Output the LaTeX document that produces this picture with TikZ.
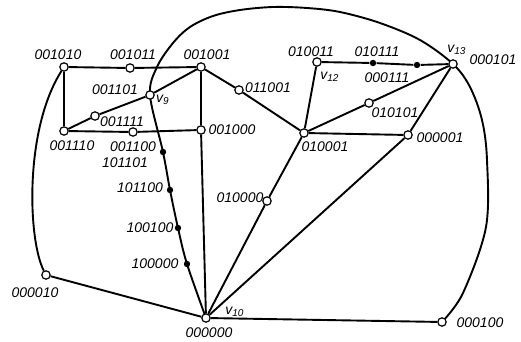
\documentclass[tikz,border=0pt]{standalone}
\usepackage{fontspec}
\usetikzlibrary{backgrounds}
\newfontfamily\lblfont{Liberation Sans}
\tikzset{
  vtx/.style={circle, draw, fill=white, line width=0.6pt, inner sep=0pt, minimum size=4.2pt},
  bdot/.style={circle, fill=black, inner sep=0pt, minimum size=3.2pt},
  lbl/.style={font=\lblfont\itshape\fontsize{7}{8}\selectfont, inner sep=0pt},
  edge/.style={line width=0.95pt}
}
\newcommand{\vlab}[1]{v\textsubscript{#1}}
\begin{document}
\begin{tikzpicture}[x=0.5pt, y=-0.5pt]
 \useasboundingbox (0,0) rectangle (521,342);
 % vertices
 \node[vtx] (n001010) at (64,67) {};
 \node[vtx] (n001011) at (130,68) {};
 \node[vtx] (n001001) at (201,67) {};
 \node[vtx] (v9) at (150,95) {};
 \node[vtx] (n001111) at (95,116) {};
 \node[vtx] (n001110) at (64,131) {};
 \node[vtx] (n001100) at (133,132) {};
 \node[vtx] (n001000) at (201,130) {};
 \node[vtx] (n011001) at (239,90) {};
 \node[vtx] (n010011) at (317,62) {};
 \node[vtx] (v13) at (453,64) {};
 \node[vtx] (n010101) at (369,103) {};
 \node[vtx] (n010001) at (304,133) {};
 \node[vtx] (n000001) at (408,135) {};
 \node[vtx] (n010000) at (267,201) {};
 \node[vtx] (v10) at (206,318) {};
 \node[vtx] (n000010) at (46,275) {};
 \node[vtx] (n000100) at (442,322) {};
 % black points
 \node[bdot] (d010111) at (373,63) {};
 \node[bdot] (d000111) at (417,65) {};
 \node[bdot] (d101101) at (163,152) {};
 \node[bdot] (d101100) at (170,190) {};
 \node[bdot] (d100100) at (178,228) {};
 \node[bdot] (d100000) at (187,264) {};
 % edges
 \begin{pgfonlayer}{background}
 \draw[edge] (n001010) -- (n001011) -- (n001001);
 \draw[edge] (n001010) -- (n001110);
 \draw[edge] (n001110) -- (n001100) -- (n001000);
 \draw[edge] (n001110) -- (n001111) -- (v9) -- (n001001);
 \draw[edge] (n001001) -- (n001000) -- (v10);
 \draw[edge] (n001001) -- (n011001) -- (n010001);
 \draw[edge] (n010001) -- (n010011);
 \draw[edge] (n010011) -- (d010111) -- (d000111) -- (v13);
 \draw[edge] (n010001) -- (n010101) -- (v13);
 \draw[edge] (n010001) -- (n000001) -- (v13);
 \draw[edge] (n010001) -- (n010000) -- (v10);
 \draw[edge] (n000001) -- (v10);
 \draw[edge] (v10) -- (n000100);
 \draw[edge] (v10) -- (n000010);
 \draw[edge] (n000010) .. controls (28,240) and (24,130) .. (n001010);
 \draw[edge] plot[smooth, tension=0.55] coordinates {(v10.center) (d100000.center) (d100100.center)
   (d101100.center) (d101101.center) (v9.center) (157,67) (173,43) (190,27) (213,16) (240,10)
   (273,7) (307,8) (340,12) (380,23) (420,40) (v13.center) (470,87) (482,120) (487,160)
   (486,227) (463,293) (n000100.center)};
 \end{pgfonlayer}
 % labels
 \node[lbl] (l001010) at (58,55) {001010};
 \node[lbl] (l001011) at (133,55) {001011};
 \node[lbl] (l001001) at (207,55) {001001};
 \node[lbl] (l001101) at (115,90) {001101};
 \node[lbl] (lv9) at (163,100) {\vlab{9}};
 \node[lbl] (l001111) at (122,122) {001111};
 \node[lbl] (l001110) at (72,146) {001110};
 \node[lbl] (l001100) at (133,147) {001100};
 \node[lbl] (l101101) at (125,163) {101101};
 \node[lbl] (l001000) at (232,130) {001000};
 \node[lbl] (l011001) at (268,88) {011001};
 \node[lbl] (l010011) at (311,52) {010011};
 \node[lbl] (lv12) at (330,77) {\vlab{12}};
 \node[lbl] (l010111) at (377,52) {010111};
 \node[lbl] (l000111) at (387,78) {000111};
 \node[lbl] (lv13) at (457,50) {\vlab{13}};
 \node[lbl] (l000101) at (493,60) {000101};
 \node[lbl] (l010101) at (395,113) {010101};
 \node[lbl] (l010001) at (325,147) {010001};
 \node[lbl] (l000001) at (440,138) {000001};
 \node[lbl] (l010000) at (240,198) {010000};
 \node[lbl] (l101100) at (140,188) {101100};
 \node[lbl] (l100100) at (150,228) {100100};
 \node[lbl] (l100000) at (155,264) {100000};
 \node[lbl] (l000010) at (35,293) {000010};
 \node[lbl] (lv10) at (235,312) {\vlab{10}};
 \node[lbl] (l000000) at (209,333) {000000};
 \node[lbl] (l000100) at (480,323) {000100};
\end{tikzpicture}
\end{document}
